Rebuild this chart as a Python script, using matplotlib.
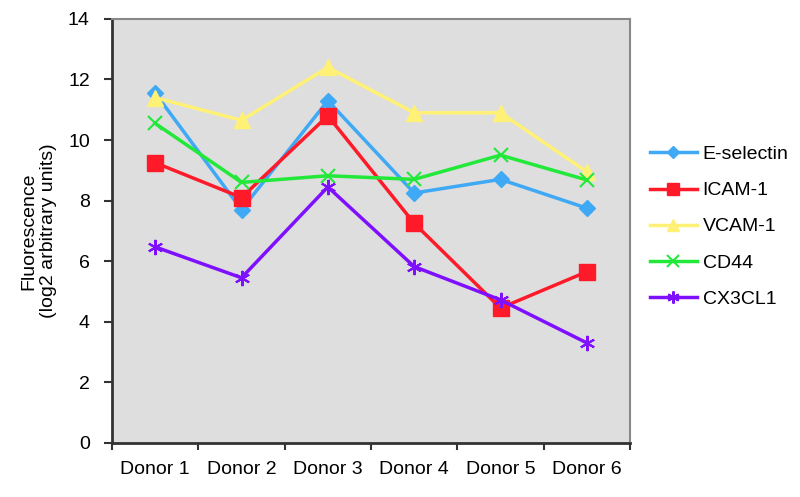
import matplotlib.pyplot as plt
import numpy as np

donors = ['Donor 1', 'Donor 2', 'Donor 3', 'Donor 4', 'Donor 5', 'Donor 6']
e_selectin = [11.55, 7.7, 11.3, 8.25, 8.7, 7.75]
icam1 = [9.25, 8.1, 10.8, 7.25, 4.45, 5.65]
vcam1 = [11.4, 10.65, 12.4, 10.9, 10.9, 8.95]
cd44 = [10.55, 8.6, 8.82, 8.7, 9.5, 8.68]
cx3cl1 = [6.47, 5.45, 8.45, 5.82, 4.72, 3.3]

plt.rcParams['font.family'] = ['Liberation Sans', 'DejaVu Sans']
fig = plt.figure(figsize=(8, 4.97), dpi=100)
ax = fig.add_axes([0.14, 0.109, 0.6475, 0.853])
ax.set_facecolor('#dedede')

x = np.arange(len(donors))
ax.plot(x, e_selectin, color='#3fa9f5', lw=2.5, marker='D', ms=8, label='E-selectin')
ax.plot(x, icam1, color='#ff1a2a', lw=2.5, marker='s', ms=11, label='ICAM-1')
ax.plot(x, vcam1, color='#fff176', lw=2.5, marker='^', ms=11, label='VCAM-1')
ax.plot(x, cd44, color='#22e83a', lw=2.5, marker='x', ms=10, mew=1.5, label='CD44')
ax.plot(x, cx3cl1, color='#7f10ff', lw=2.5, marker=(6, 2, 0), ms=11, mew=1.5, label='CX3CL1')

ax.set_xlim(-0.5, 5.5)
ax.set_ylim(0, 14)
ax.set_yticks(np.arange(0, 15, 2))
ax.set_xticks(np.arange(-0.5, 6, 1))
ax.set_xticklabels([])
ax.set_xticks(x, minor=True)
ax.set_xticklabels(donors, minor=True)
ax.tick_params(axis='x', which='minor', length=0, pad=13, labelsize=14)
ax.tick_params(axis='x', which='major', length=5, width=1.5, color='#333333')
ax.tick_params(axis='y', length=6, width=1.5, color='#333333', labelsize=14, pad=10)

for s in ['left', 'bottom']:
    ax.spines[s].set_color('#333333')
    ax.spines[s].set_linewidth(2)
for s in ['top', 'right']:
    ax.spines[s].set_color('#888888')
    ax.spines[s].set_linewidth(1.5)

ax.set_ylabel('Fluorescence\n(log2 arbitrary units)', fontsize=14, labelpad=8)
leg = ax.legend(loc='center left', bbox_to_anchor=(1.005, 0.51), frameon=False,
                fontsize=14, handlelength=2.4, labelspacing=0.95, handletextpad=0.3,
                markerscale=0.8)

plt.savefig('out.png')
